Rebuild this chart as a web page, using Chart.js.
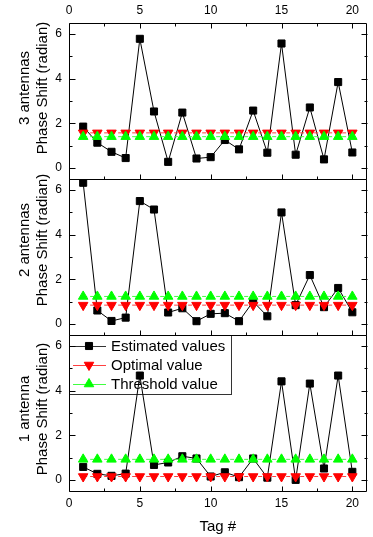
<!DOCTYPE html>
<html><head><meta charset="utf-8">
<script src="https://cdn.jsdelivr.net/npm/chart.js@4.4.0/dist/chart.umd.min.js"></script>
<style>
html,body{margin:0;padding:0;background:#fff;}
#wrap{position:relative;width:373px;height:537px;overflow:hidden;background:#fff;}
canvas{position:absolute;left:0;top:0;}
</style></head><body>
<div id="wrap">
<canvas id="c1" width="373" height="537"></canvas>
<canvas id="c2" width="373" height="537"></canvas>
<canvas id="c3" width="373" height="537"></canvas>
</div>
<script>
// ---- data ----
const tags = [1,2,3,4,5,6,7,8,9,10,11,12,13,14,15,16,17,18,19,20];
const xTicks = [0,5,10,15,20];
const xMinorTicks = [2.5,7.5,12.5,17.5];
const yTicks = [0,2,4,6];
const yMinorTicks = [1,3,5];
const seriesNames = ['Estimated values','Optimal value','Threshold value'];
const xTitle = 'Tag #';
const titles3 = ['3 antennas','Phase Shift (radian)'];
const titles2 = ['2 antennas','Phase Shift (radian)'];
const titles1 = ['1 antenna','Phase Shift (radian)'];

const est3 = [1.85,1.13,0.72,0.44,5.79,2.53,0.27,2.48,0.42,0.48,1.25,0.83,2.57,0.68,5.58,0.59,2.71,0.38,3.85,0.69];
const opt3 = [1.57,1.57,1.57,1.57,1.57,1.57,1.57,1.57,1.57,1.57,1.57,1.57,1.57,1.57,1.57,1.57,1.57,1.57,1.57,1.57];
const thr3 = [1.40,1.40,1.40,1.40,1.40,1.40,1.40,1.40,1.40,1.40,1.40,1.40,1.40,1.40,1.40,1.40,1.40,1.40,1.40,1.40];

const est2 = [6.33,0.60,0.13,0.28,5.51,5.13,0.51,0.70,0.12,0.45,0.48,0.12,1.00,0.34,5.00,0.84,2.19,0.75,1.61,0.52];
const opt2 = [0.84,0.84,0.84,0.84,0.84,0.84,0.84,0.84,0.84,0.84,0.84,0.84,0.84,0.84,0.84,0.84,0.84,0.84,0.84,0.84];
const thr2 = [1.23,1.23,1.23,1.23,1.23,1.23,1.23,1.23,1.23,1.23,1.23,1.23,1.23,1.23,1.23,1.23,1.23,1.23,1.23,1.23];

const est1 = [0.58,0.27,0.18,0.28,4.68,0.67,0.78,1.06,0.96,0.15,0.34,0.12,0.96,0.10,4.42,0.00,4.32,0.51,4.68,0.36];
const opt1 = [0.15,0.15,0.15,0.15,0.15,0.15,0.15,0.15,0.15,0.15,0.15,0.15,0.15,0.15,0.15,0.15,0.15,0.15,0.15,0.15];
const thr1 = [0.92,0.92,0.92,0.92,0.92,0.92,0.92,0.92,0.92,0.92,0.92,0.92,0.92,0.92,0.92,0.92,0.92,0.92,0.92,0.92];

// ---- styling ----
const FONT = '"Liberation Sans", Arial, Helvetica, sans-serif';
const RED = '#ff0000', GREEN = '#00ff00', BLACK = '#000000';
const RED_LINE = '#ff4040', GREEN_LINE = '#40ff40';

const pts = (vals) => tags.map((t, i) => ({x: t, y: vals[i]}));

const framePlugin = {
  id: 'frame',
  afterDatasetsDraw(chart, args, opts) {
    const {ctx, chartArea: a, scales: {x, y}} = chart;
    const L = Math.round(a.left) + 0.5, R = Math.round(a.right) - 0.5;
    const T = Math.round(a.top) + 0.5, B = Math.round(a.bottom) + 0.5;
    ctx.save();
    ctx.strokeStyle = '#000'; ctx.lineWidth = 1;
    ctx.beginPath();
    ctx.rect(L, T, R - L, B - T);
    const xt = (vals, len) => vals.forEach(v => {
      const px = Math.round(x.getPixelForValue(v)) + 0.5;
      ctx.moveTo(px, B); ctx.lineTo(px, B - len);
      if (opts.topTicks) { ctx.moveTo(px, T); ctx.lineTo(px, T + len); }
    });
    const yt = (vals, len) => vals.forEach(v => {
      const py = Math.round(y.getPixelForValue(v)) + 0.5;
      ctx.moveTo(L, py); ctx.lineTo(L + len, py);
      ctx.moveTo(R + 1, py); ctx.lineTo(R + 1 - len, py);
    });
    xt(xTicks, 5); xt(xMinorTicks, 3);
    yt(yTicks, 6); yt(yMinorTicks, 3);
    ctx.stroke();
    ctx.restore();
  }
};

const titlePlugin = {
  id: 'ptitle',
  afterDraw(chart, args, opts) {
    const {ctx} = chart;
    ctx.save();
    ctx.font = '15px ' + FONT; ctx.fillStyle = '#000';
    ctx.textAlign = 'center'; ctx.textBaseline = 'middle';
    opts.lines.forEach((t, i) => {
      ctx.save();
      ctx.translate(opts.xs[i], opts.cy);
      ctx.rotate(-Math.PI / 2);
      ctx.fillText(t, 0, 0);
      ctx.restore();
    });
    ctx.restore();
  }
};

function marker(ctx, style, r, rot, x, y, color) {
  if (window.Chart && Chart.helpers && Chart.helpers.drawPoint) {
    ctx.fillStyle = color; ctx.strokeStyle = color; ctx.lineWidth = 1;
    Chart.helpers.drawPoint(ctx, {pointStyle: style, radius: r, rotation: rot, borderWidth: 1}, x, y);
  }
}

const legendPlugin = {
  id: 'plegend',
  beforeDatasetsDraw(chart, args, opts) {
    if (!opts.show) return;
    const {ctx, chartArea: a} = chart;
    const L = Math.round(a.left) + 0.5, T = Math.round(a.top) + 0.5;
    ctx.save();
    ctx.strokeStyle = '#333'; ctx.lineWidth = 1;
    ctx.strokeRect(L, T, 162, 59);
    const rows = [
      {name: seriesNames[0], line: '#333', col: BLACK, style: 'rect', r: 5, rot: 0},
      {name: seriesNames[1], line: RED_LINE, col: RED, style: 'triangle', r: 5.5, rot: 180},
      {name: seriesNames[2], line: GREEN_LINE, col: GREEN, style: 'triangle', r: 5.5, rot: 0}
    ];
    rows.forEach((row, i) => {
      const cy = a.top + 11 + i * 19;
      ctx.beginPath(); ctx.strokeStyle = row.line; ctx.lineWidth = 1;
      ctx.moveTo(a.left + 4, Math.round(cy) + 0.5); ctx.lineTo(a.left + 37, Math.round(cy) + 0.5); ctx.stroke();
      marker(ctx, row.style, row.r, row.rot, a.left + 20, cy, row.col);
      ctx.fillStyle = '#000'; ctx.font = '15px ' + FONT;
      ctx.textAlign = 'left'; ctx.textBaseline = 'middle';
      ctx.fillText(row.name, a.left + 42, cy + 0.5);
    });
    ctx.restore();
  }
};

function makeChart(id, est, opt, thr, cfg) {
  return new Chart(document.getElementById(id), {
    type: 'line',
    data: {datasets: [
      {label: seriesNames[0], data: pts(est), borderColor: BLACK, backgroundColor: BLACK, borderWidth: 1,
       pointStyle: 'rect', pointRadius: 5, pointBorderWidth: 1, pointBorderColor: BLACK, pointBackgroundColor: BLACK, order: 3, tension: 0},
      {label: seriesNames[1], data: pts(opt), borderColor: RED_LINE, backgroundColor: RED, borderWidth: 1, borderDash: [4, 3],
       pointStyle: 'triangle', pointRotation: 180, pointRadius: 5.5, pointBorderWidth: 1, pointBorderColor: RED, pointBackgroundColor: RED, order: 2},
      {label: seriesNames[2], data: pts(thr), borderColor: GREEN_LINE, backgroundColor: GREEN, borderWidth: 1, borderDash: [4, 3],
       pointStyle: 'triangle', pointRotation: 0, pointRadius: 5.5, pointBorderWidth: 1, pointBorderColor: GREEN, pointBackgroundColor: GREEN, order: 1}
    ]},
    options: {
      responsive: false, animation: false, devicePixelRatio: 1,
      layout: {padding: {left: 0, right: 0, top: cfg.padTop, bottom: cfg.padBottom}},
      plugins: {
        legend: {display: false}, tooltip: {enabled: false},
        frame: {topTicks: cfg.topTicks},
        ptitle: {lines: cfg.titles, xs: [25, 43], cy: cfg.titleY},
        plegend: {show: cfg.legend}
      },
      scales: {
        x: {
          type: 'linear', min: 0, max: 21, position: cfg.xPos, display: cfg.xDisplay,
          afterBuildTicks: s => { s.ticks = xTicks.map(v => ({value: v})); },
          afterFit: s => { s.height = cfg.xHeight; },
          grid: {display: false, drawTicks: false}, border: {display: false},
          ticks: {font: {family: FONT, size: 12}, color: '#000', padding: 5, maxRotation: 0, autoSkip: false},
          title: {display: cfg.xTitle, text: xTitle, color: '#000', font: {family: FONT, size: 15}, padding: {top: 0, bottom: 1}}
        },
        y: {
          type: 'linear', min: -0.5, max: 6.5, position: 'left',
          afterBuildTicks: s => { s.ticks = yTicks.map(v => ({value: v})); },
          afterFit: s => { s.width = 69; },
          grid: {display: false, drawTicks: false}, border: {display: false},
          ticks: {font: {family: FONT, size: 12}, color: '#000', padding: 7}
        }
      }
    },
    plugins: [framePlugin, titlePlugin, legendPlugin]
  });
}

makeChart('c1', est3, opt3, thr3, {padTop: 0, padBottom: 358, xPos: 'top', xDisplay: true, xHeight: 23, xTitle: false, topTicks: true, titles: titles3, titleY: 88, legend: false});
makeChart('c2', est2, opt2, thr2, {padTop: 179, padBottom: 202, xPos: 'bottom', xDisplay: false, xHeight: 0, xTitle: false, topTicks: false, titles: titles2, titleY: 240, legend: false});
makeChart('c3', est1, opt1, thr1, {padTop: 335, padBottom: 0, xPos: 'bottom', xDisplay: true, xHeight: 46, xTitle: true, topTicks: false, titles: titles1, titleY: 409, legend: true});
</script>
</body></html>
